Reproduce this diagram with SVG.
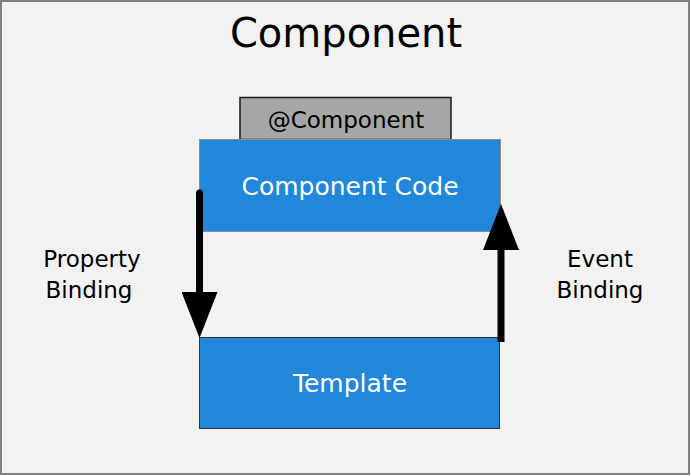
<svg xmlns="http://www.w3.org/2000/svg" width="691" height="476" viewBox="0 0 691 476">
<style>
text{font-family:"DejaVu Sans","Verdana",sans-serif;text-anchor:middle}
.box{fill:#2087db}
.wt{fill:#ffffff;font-size:25px}
.bt{fill:#000000;font-size:23px}
</style>
<defs>
<marker id="ah" markerUnits="userSpaceOnUse" markerWidth="46" markerHeight="36" refX="1" refY="18" orient="auto" viewBox="0 0 46 36">
<path d="M0,0 L46,18 L0,36 Z" fill="#000"/>
</marker>
</defs>
<rect x="1" y="1" width="688" height="473" fill="#f2f2f2" stroke="#808080" stroke-width="2"/>
<text x="346" y="47" style="font-size:40px" fill="#000">Component</text>
<g id="annotation">
<rect x="240" y="97.5" width="211" height="42" fill="#a6a6a6" stroke="#1a1a1a" stroke-width="1.5"/>
<text class="bt" x="346" y="128">@Component</text>
</g>
<g id="code">
<rect class="box" x="199.5" y="139.5" width="301" height="92" stroke="#8c8c8c" stroke-width="1"/>
<text class="wt" x="350" y="195">Component Code</text>
</g>
<g id="template">
<rect class="box" x="199.5" y="337.5" width="300" height="91" stroke="#333" stroke-width="1"/>
<text class="wt" x="350" y="392">Template</text>
</g>
<g id="connectors">
<line x1="199.5" y1="193" x2="199.5" y2="293" stroke="#000" stroke-width="7" stroke-linecap="round" marker-end="url(#ah)"/>
<line x1="501" y1="342" x2="501" y2="249" stroke="#000" stroke-width="7" marker-end="url(#ah)"/>
</g>
<g id="labels">
<text class="bt" x="92" y="267">Property</text>
<text class="bt" x="89" y="298">Binding</text>
<text class="bt" x="600" y="267">Event</text>
<text class="bt" x="600" y="298">Binding</text>
</g>
</svg>
